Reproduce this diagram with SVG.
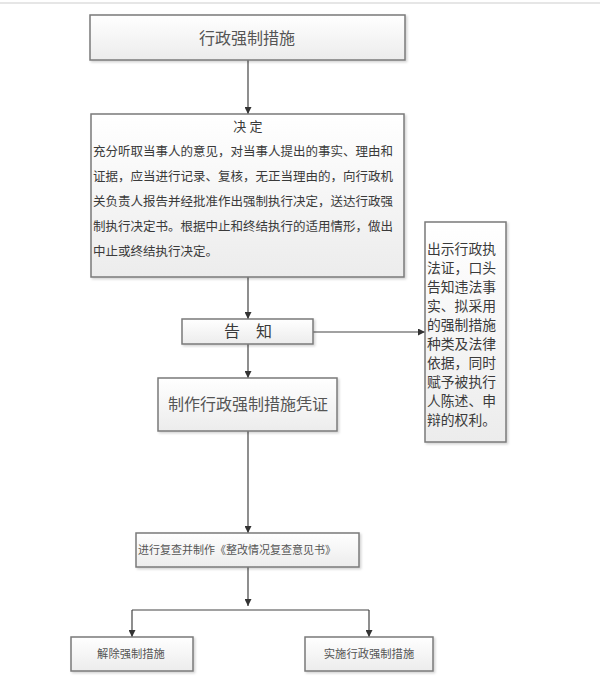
<svg xmlns="http://www.w3.org/2000/svg" width="600" height="682" viewBox="0 0 600 682">
<defs>
<linearGradient id="g" x1="0" y1="0" x2="0" y2="1">
<stop offset="0" stop-color="#ffffff"/>
<stop offset="1" stop-color="#ececec"/>
</linearGradient>
<filter id="sh" x="-5%" y="-5%" width="115%" height="120%">
<feDropShadow dx="1.5" dy="1.5" stdDeviation="1" flood-color="#000" flood-opacity="0.18"/>
</filter>
<marker id="ah" viewBox="0 0 10 10" refX="10" refY="5" markerWidth="7" markerHeight="7" markerUnits="userSpaceOnUse" orient="auto">
<path d="M0,0 L10,5 L0,10 z" fill="#333"/>
</marker>
</defs>
<style>
.box{fill:url(#g);stroke:#7a7a7a;stroke-width:1.5;filter:url(#sh)}
.t{font-family:"Liberation Serif","Noto Sans CJK SC",serif;fill:#3a3a3a}
.s{font-family:"Noto Sans CJK SC",sans-serif;fill:#555}
.c{fill:none;stroke:#444;stroke-width:1.2;marker-end:url(#ah)}
.l{fill:none;stroke:#444;stroke-width:1.2}
</style>
<rect width="600" height="682" fill="#fff"/>
<line x1="0" y1="3" x2="600" y2="3" stroke="#e6e6e6" stroke-width="2"/>
<g id="connectors">
<path class="c" d="M248,60 V114"/>
<path class="c" d="M248,277 V319"/>
<path class="c" d="M313,332 H425"/>
<path class="c" d="M248,344 V378"/>
<path class="c" d="M248,431 V533"/>
<path class="c" d="M248,567 V606"/>
<path class="l" d="M132,610 H369"/>
<path class="c" d="M132,610 V637"/>
<path class="c" d="M369,610 V637"/>
</g>
<g id="n1">
<rect class="box" x="90" y="15" width="315" height="45"/>
<text class="s" x="247" y="44" font-size="16" text-anchor="middle">行政强制措施</text>
</g>
<g id="n2">
<rect class="box" x="91" y="114" width="313" height="163"/>
<text class="t" x="248" y="131" font-size="13" text-anchor="middle">决 定</text>
<text class="t" font-size="12.5">
<tspan x="93" y="156">充分听取当事人的意见，对当事人提出的事实、理由和</tspan>
<tspan x="93" y="181">证据，应当进行记录、复核，无正当理由的，向行政机</tspan>
<tspan x="93" y="206">关负责人报告并经批准作出强制执行决定，送达行政强</tspan>
<tspan x="93" y="231">制执行决定书。根据中止和终结执行的适用情形，做出</tspan>
<tspan x="93" y="256">中止或终结执行决定。</tspan>
</text>
</g>
<g id="n3">
<rect class="box" x="182" y="319" width="131" height="25"/>
<text class="t" x="248" y="337" font-size="16" text-anchor="middle">告　知</text>
</g>
<g id="n4">
<rect class="box" x="425" y="222" width="81" height="220"/>
<text class="t" font-size="13.8">
<tspan x="427" y="254">出示行政执</tspan>
<tspan x="427" y="273">法证，口头</tspan>
<tspan x="427" y="292">告知违法事</tspan>
<tspan x="427" y="311">实、拟采用</tspan>
<tspan x="427" y="330">的强制措施</tspan>
<tspan x="427" y="349">种类及法律</tspan>
<tspan x="427" y="368">依据，同时</tspan>
<tspan x="427" y="387">赋予被执行</tspan>
<tspan x="427" y="406">人陈述、申</tspan>
<tspan x="427" y="425">辩的权利。</tspan>
</text>
</g>
<g id="n5">
<rect class="box" x="158" y="378" width="179" height="53"/>
<text class="s" x="248" y="410" font-size="16" text-anchor="middle">制作行政强制措施凭证</text>
</g>
<g id="n6">
<rect class="box" x="136" y="533" width="223" height="34"/>
<text class="s" x="138" y="554" font-size="11">进行复查并制作《整改情况复查意见书》</text>
</g>
<g id="n7">
<rect class="box" x="71" y="637" width="122" height="34"/>
<text class="s" x="131" y="658" font-size="11.3" text-anchor="middle">解除强制措施</text>
</g>
<g id="n8">
<rect class="box" x="305" y="637" width="128" height="34"/>
<text class="s" x="369" y="658" font-size="11.3" text-anchor="middle">实施行政强制措施</text>
</g>
</svg>
